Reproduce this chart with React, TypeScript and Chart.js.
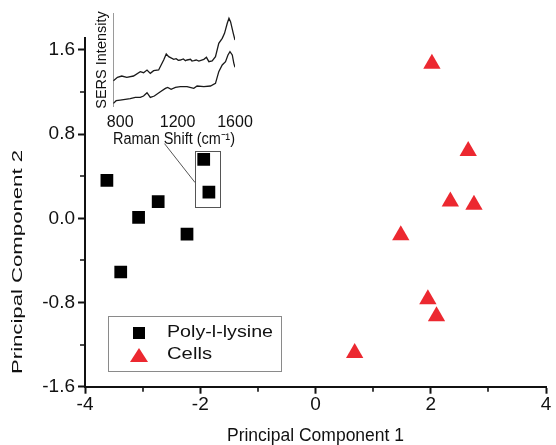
import React, { useEffect, useRef } from 'react';
import { Chart, registerables } from 'chart.js';

Chart.register(...registerables);

// ---------- main scatter data ----------
const seriesLabels = ['Poly-l-lysine', 'Cells'];
const polyX = [-3.62, -3.38, -3.07, -2.73, -2.23, -1.94, -1.85];
const polyY = [0.36, -0.51, 0.01, 0.16, -0.15, 0.56, 0.25];
const cellsX = [2.02, 2.65, 2.34, 2.75, 1.48, 1.95, 2.1, 0.68];
const cellsY = [1.47, 0.64, 0.16, 0.13, -0.16, -0.77, -0.93, -1.28];
const xTicks = [-4, -2, 0, 2, 4];
const xMinorTicks = [-3, -1, 1, 3];
const yTicks = [-1.6, -0.8, 0, 0.8, 1.6];
const yMinorTicks = [-1.2, -0.4, 0.4, 1.2];
const xTitle = 'Principal Component 1';
const yTitle = 'Principal Component 2';

// ---------- inset spectra data ----------
const upperShift = [753, 781, 811, 846, 893, 940, 963, 987, 1010, 1033, 1068, 1103, 1121, 1138, 1173, 1190, 1205, 1219, 1240, 1255, 1266, 1290, 1300, 1313, 1330, 1348, 1383, 1401, 1418, 1441, 1464, 1487, 1511, 1527, 1546, 1558, 1569, 1588, 1600];
const upperIntensity = [8.8, 9.8, 10.2, 9.8, 10.2, 11.5, 11.2, 12.0, 11.0, 11.8, 12.0, 15.0, 16.8, 16.0, 15.2, 15.4, 14.9, 15.0, 15.3, 14.8, 15.0, 15.2, 14.7, 14.8, 15.0, 14.7, 15.2, 15.8, 14.5, 14.7, 16.0, 20.0, 21.5, 23.0, 26.0, 27.5, 26.5, 23.0, 21.0];
const lowerShift = [753, 772, 800, 835, 870, 905, 940, 963, 987, 1010, 1038, 1080, 1115, 1131, 1155, 1185, 1219, 1266, 1313, 1336, 1383, 1429, 1464, 1487, 1511, 1534, 1551, 1565, 1581, 1592, 1600];
const lowerIntensity = [2.0, 2.8, 3.0, 3.2, 3.4, 3.8, 3.8, 4.2, 5.2, 3.8, 4.2, 5.5, 6.5, 6.8, 6.2, 6.8, 7.0, 7.0, 6.5, 7.2, 7.0, 7.2, 8.0, 11.5, 13.5, 14.5, 16.5, 17.5, 16.5, 14.0, 12.8];
const insetXTicks = [800, 1200, 1600];
const insetXTitle = 'Raman Shift (cm⁻¹)';
const insetYTitle = 'SERS Intensity';

const FONT = "'Liberation Sans', Arial, sans-serif";
const INK = '#111111';
const RED = '#ec2830';

function drawStretched(
  ctx: CanvasRenderingContext2D,
  text: string,
  x: number,
  y: number,
  size: number,
  targetLen: number,
  rotate: boolean,
  align: CanvasTextAlign
) {
  ctx.save();
  ctx.font = `${size}px ${FONT}`;
  const w = ctx.measureText(text).width;
  ctx.translate(x, y);
  if (rotate) ctx.rotate(-Math.PI / 2);
  ctx.scale(targetLen / w, 1);
  ctx.fillStyle = INK;
  ctx.textAlign = align;
  ctx.textBaseline = 'middle';
  ctx.fillText(text, 0, 0);
  ctx.restore();
}

const decorPlugin = {
  id: 'decor',
  afterDraw(chart: any) {
    const ctx: CanvasRenderingContext2D = chart.ctx;
    const xs = chart.scales.x;
    const ys = chart.scales.y;
    const area = chart.chartArea;
    ctx.save();
    // minor ticks
    ctx.strokeStyle = INK;
    ctx.lineWidth = 1.6;
    ctx.beginPath();
    xMinorTicks.forEach((v) => {
      const px = Math.round(xs.getPixelForValue(v));
      ctx.moveTo(px, area.bottom + 1);
      ctx.lineTo(px, area.bottom + 5);
    });
    yMinorTicks.forEach((v) => {
      const py = Math.round(ys.getPixelForValue(v));
      ctx.moveTo(area.left - 1, py);
      ctx.lineTo(area.left - 5, py);
    });
    ctx.stroke();

    // selection box + connector
    ctx.strokeStyle = '#555';
    ctx.lineWidth = 1;
    const bx0 = xs.getPixelForValue(-2.09);
    const bx1 = xs.getPixelForValue(-1.65);
    const by0 = ys.getPixelForValue(0.64);
    const by1 = ys.getPixelForValue(0.105);
    ctx.strokeRect(Math.round(bx0) + 0.5, Math.round(by0) + 0.5, Math.round(bx1 - bx0), Math.round(by1 - by0));
    ctx.beginPath();
    ctx.moveTo(xs.getPixelForValue(-2.62), ys.getPixelForValue(0.71));
    ctx.lineTo(bx0, ys.getPixelForValue(0.34));
    ctx.stroke();

    // legend
    const lx = area.left + 23;
    const ly = area.top + 278;
    ctx.strokeStyle = '#8a8a8a';
    ctx.lineWidth = 1;
    ctx.strokeRect(lx + 0.5, ly + 0.5, 173, 55);
    const ds = chart.data.datasets;
    ctx.fillStyle = ds[0].backgroundColor;
    ctx.fillRect(lx + 25, ly + 11, 12, 12);
    drawStretched(ctx, ds[0].label, lx + 59, ly + 17, 16, 106, false, 'left');
    ctx.fillStyle = ds[1].backgroundColor;
    ctx.beginPath();
    ctx.moveTo(lx + 31, ly + 32);
    ctx.lineTo(lx + 40, ly + 46);
    ctx.lineTo(lx + 22, ly + 46);
    ctx.closePath();
    ctx.fill();
    drawStretched(ctx, ds[1].label, lx + 59, ly + 39, 16, 45, false, 'left');

    // y title
    drawStretched(ctx, chart.options.scales.y.title.text, 18, 262, 14, 224, true, 'center');
    ctx.restore();
  },
};

export default function App() {
  const mainRef = useRef<HTMLCanvasElement>(null);
  const insetRef = useRef<HTMLCanvasElement>(null);

  useEffect(() => {
    Chart.defaults.font.family = FONT;
    Chart.defaults.color = INK;

    const main = new Chart(mainRef.current as HTMLCanvasElement, {
      type: 'scatter',
      data: {
        datasets: [
          {
            label: seriesLabels[0],
            data: polyX.map((x, i) => ({ x, y: polyY[i] })),
            pointStyle: 'rect',
            pointRadius: 9,
            backgroundColor: '#000000',
            borderColor: '#000000',
            borderWidth: 0,
          },
          {
            label: seriesLabels[1],
            data: cellsX.map((x, i) => ({ x, y: cellsY[i] })),
            pointStyle: 'triangle',
            pointRadius: 10,
            backgroundColor: RED,
            borderColor: RED,
            borderWidth: 0,
          },
        ],
      },
      options: {
        responsive: false,
        animation: false,
        events: [],
        layout: { padding: { top: 38, right: 6, left: 0, bottom: 0 } },
        plugins: { legend: { display: false }, tooltip: { enabled: false }, title: { display: false } },
        scales: {
          x: {
            type: 'linear',
            min: -4,
            max: 4,
            afterBuildTicks: (s: any) => {
              s.ticks = xTicks.map((v) => ({ value: v }));
            },
            afterFit: (s: any) => {
              s.height = 58.3;
              s.paddingLeft = 0;
              s.paddingRight = 0;
            },
            ticks: {
              font: { size: 19 },
              color: INK,
              padding: 0,
              maxRotation: 0,
              autoSkip: false,
              callback: (v: any) => String(v),
            },
            grid: { display: true, drawOnChartArea: false, drawTicks: true, tickLength: 7, tickWidth: 2, tickColor: INK },
            border: { display: true, width: 2, color: INK },
            title: {
              display: true,
              text: xTitle,
              font: { size: 17.5, lineHeight: 1 },
              color: INK,
              padding: { top: 0, bottom: 0 },
            },
          },
          y: {
            type: 'linear',
            min: -1.6,
            max: 1.714,
            afterBuildTicks: (s: any) => {
              s.ticks = yTicks.map((v) => ({ value: v }));
            },
            afterFit: (s: any) => {
              s.width = 85;
              s.paddingTop = 0;
              s.paddingBottom = 0;
            },
            ticks: {
              font: { size: 19 },
              color: INK,
              padding: 3,
              autoSkip: false,
              callback: (v: any) => Number(v).toFixed(1),
            },
            grid: { display: true, drawOnChartArea: false, drawTicks: true, tickLength: 7, tickWidth: 2, tickColor: INK },
            border: { display: true, width: 2, color: INK },
            title: { display: false, text: yTitle },
          },
        },
      },
      plugins: [decorPlugin],
    } as any);

    const inset = new Chart(insetRef.current as HTMLCanvasElement, {
      type: 'line',
      data: {
        datasets: [
          {
            data: upperShift.map((x, i) => ({ x, y: upperIntensity[i] })),
            borderColor: '#1a1a1a',
            borderWidth: 1.3,
            pointRadius: 0,
            fill: false,
          },
          {
            data: lowerShift.map((x, i) => ({ x, y: lowerIntensity[i] })),
            borderColor: '#1a1a1a',
            borderWidth: 1.3,
            pointRadius: 0,
            fill: false,
          },
        ],
      },
      options: {
        responsive: false,
        animation: false,
        events: [],
        layout: { padding: { top: 13.3, right: 30, left: 0, bottom: 0 } },
        plugins: { legend: { display: false }, tooltip: { enabled: false } },
        scales: {
          x: {
            type: 'linear',
            min: 750,
            max: 1600,
            afterBuildTicks: (s: any) => {
              s.ticks = insetXTicks.map((v) => ({ value: v }));
            },
            afterFit: (s: any) => {
              s.height = 48.3;
              s.paddingLeft = 0;
              s.paddingRight = 0;
            },
            ticks: {
              font: { size: 16 },
              color: INK,
              padding: 6.7,
              maxRotation: 0,
              autoSkip: false,
              callback: (v: any) => String(v),
            },
            grid: { display: false, drawTicks: false },
            border: { display: false },
            title: {
              display: true,
              text: insetXTitle,
              font: { size: 16 },
              color: INK,
              padding: { top: 0, bottom: 5.4 },
            },
          },
          y: {
            type: 'linear',
            min: 1,
            max: 29,
            afterFit: (s: any) => {
              s.width = 28;
            },
            ticks: { display: false },
            grid: { display: false, drawTicks: false },
            border: { display: true, color: '#9a9a9a', width: 1 },
            title: {
              display: true,
              text: insetYTitle,
              font: { size: 14.5 },
              color: INK,
              padding: { top: 8.3, bottom: 0 },
            },
          },
        },
      },
    } as any);

    return () => {
      main.destroy();
      inset.destroy();
    };
  }, []);

  return (
    <div style={{ position: 'absolute', left: 0, top: 0, width: 556, height: 445, background: '#ffffff' }}>
      <canvas ref={mainRef} width={556} height={445} style={{ position: 'absolute', left: 0, top: 0 }} />
      <canvas ref={insetRef} width={180} height={155} style={{ position: 'absolute', left: 85, top: 0 }} />
    </div>
  );
}
